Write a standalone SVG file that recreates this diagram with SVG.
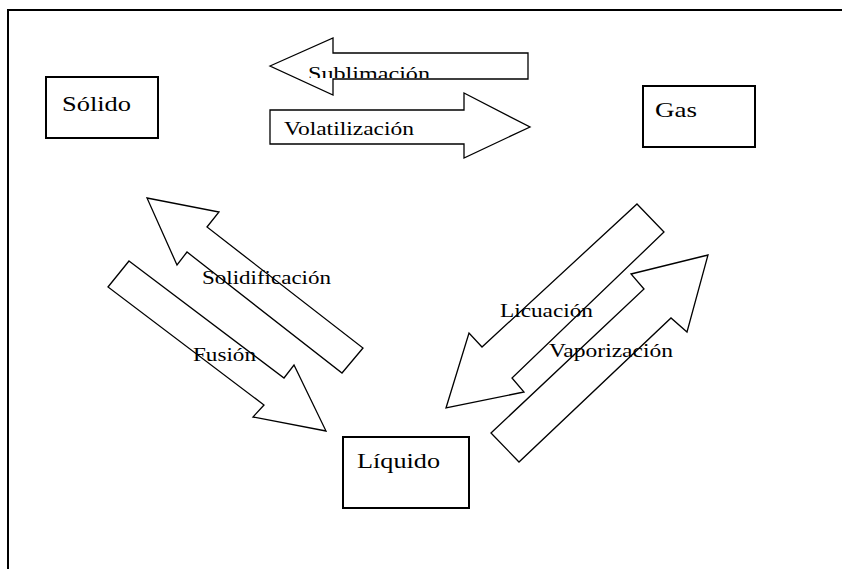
<svg xmlns="http://www.w3.org/2000/svg" width="842" height="569" viewBox="0 0 842 569">
<style>
.frame{fill:none;stroke:#000;stroke-width:2}
.box{fill:#fff;stroke:#000;stroke-width:2}
.arr{fill:#fff;stroke:#000;stroke-width:1.3;stroke-linejoin:miter}
.t{font-family:"Liberation Serif","Times New Roman",serif;font-size:19px;fill:#000}
.tb{font-family:"Liberation Serif","Times New Roman",serif;font-size:21px;fill:#000}
</style>
<defs>
<clipPath id="subClip"><rect x="270" y="53" width="258" height="25"/></clipPath>
</defs>
<rect width="842" height="569" fill="#fff"/>
<rect class="frame" x="8" y="10" width="900" height="600"/>

<g id="connectors">
  <g id="sublimacion">
    <polygon class="arr" points="270,66 333,38 333,53 528,53 528,79 333,79 333,95"/>
    <text class="t" x="308" y="80" textLength="122" lengthAdjust="spacingAndGlyphs" clip-path="url(#subClip)">Sublimación</text>
  </g>
  <g id="volatilizacion">
    <polygon class="arr" points="270,110 464,110 464,93 530,127 464,158 464,144 270,144"/>
    <text class="t" x="284" y="135" textLength="130" lengthAdjust="spacingAndGlyphs">Volatilización</text>
  </g>
  <g id="solidificacion">
    <polygon class="arr" points="147,198 219,212 207,227 363,348 342,373 187,252 177,265"/>
    <text class="t" x="202" y="284" textLength="129" lengthAdjust="spacingAndGlyphs">Solidificación</text>
  </g>
  <g id="fusion">
    <polygon class="arr" points="129,261 284,378 294,365 326,431 253,417 264,405 108,287"/>
    <text class="t" x="193" y="361" textLength="63" lengthAdjust="spacingAndGlyphs">Fusión</text>
  </g>
  <g id="licuacion">
    <polygon class="arr" points="637,204 664,232 512,378 524,392 446,408 469,333 482,347"/>
    <text class="t" x="500" y="317" textLength="93" lengthAdjust="spacingAndGlyphs">Licuación</text>
  </g>
  <g id="vaporizacion">
    <polygon class="arr" points="491,433 644,289 631,274 708,255 687,332 671,318 519,462"/>
    <text class="t" x="549" y="357" textLength="124" lengthAdjust="spacingAndGlyphs">Vaporización</text>
  </g>
</g>

<g id="solido">
  <rect class="box" x="46" y="77" width="112" height="61"/>
  <text class="tb" x="62" y="111" textLength="69" lengthAdjust="spacingAndGlyphs">Sólido</text>
</g>
<g id="gas">
  <rect class="box" x="643" y="86" width="112" height="61"/>
  <text class="tb" x="655" y="117" textLength="42" lengthAdjust="spacingAndGlyphs">Gas</text>
</g>
<g id="liquido">
  <rect class="box" x="343" y="437" width="126" height="71"/>
  <text class="tb" x="357" y="468" textLength="83" lengthAdjust="spacingAndGlyphs">Líquido</text>
</g>
</svg>
